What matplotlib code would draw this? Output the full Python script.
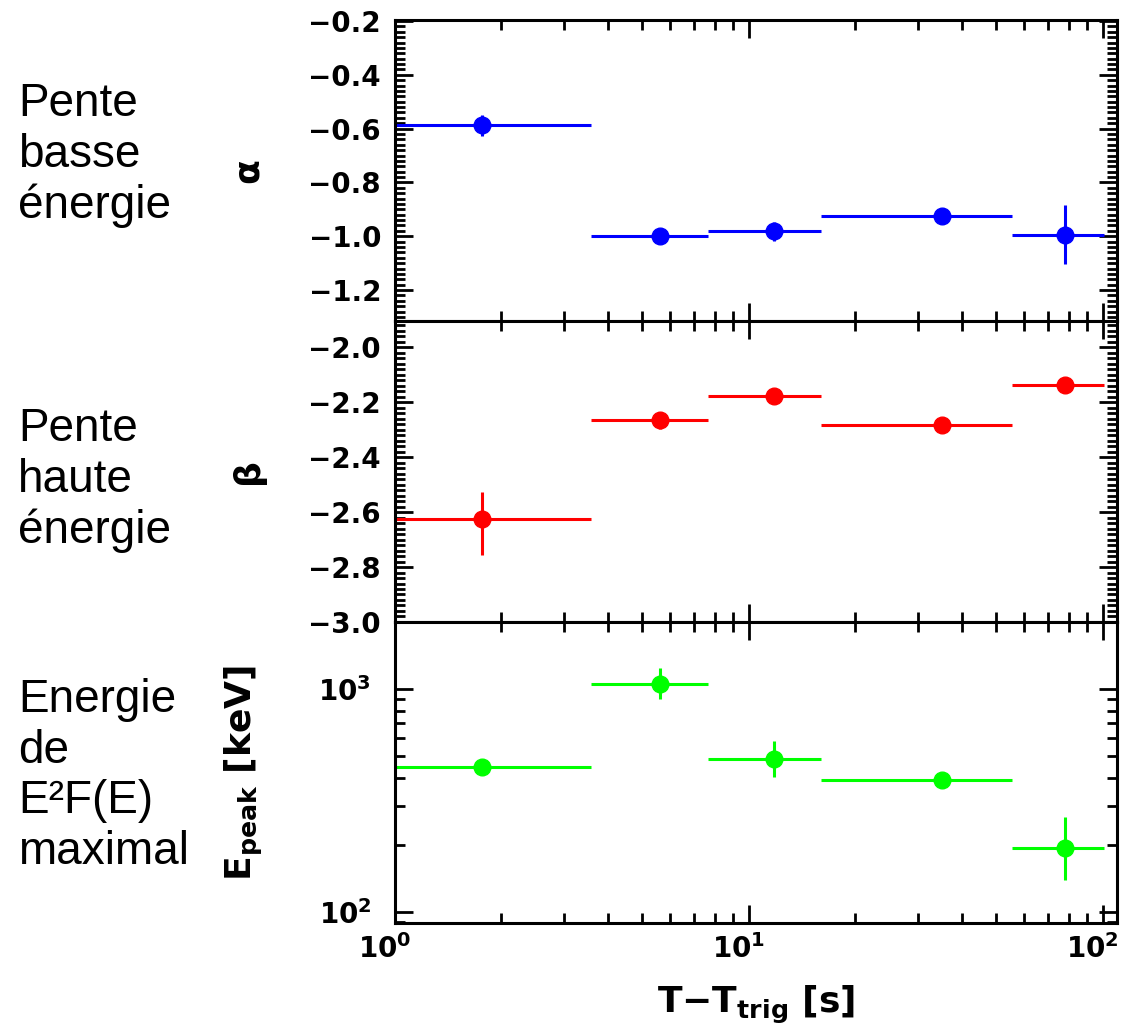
import numpy as np
import matplotlib
matplotlib.use('Agg')
import matplotlib.pyplot as plt
import matplotlib.transforms as mtrans
from matplotlib.ticker import MultipleLocator, LogLocator, NullFormatter

plt.rcParams['font.family'] = ['DejaVu Sans']
plt.rcParams['mathtext.fontset'] = 'custom'
plt.rcParams['mathtext.rm'] = 'DejaVu Sans:bold'
plt.rcParams['mathtext.it'] = 'DejaVu Sans:bold'
plt.rcParams['mathtext.bf'] = 'DejaVu Sans:bold'

# time bins (s)
t_mid = [1.76, 5.6, 11.8, 35.2, 78.0]
t_lo = [1.0, 3.57, 7.65, 16.0, 55.2]
t_hi = [3.57, 7.65, 16.0, 55.2, 101.0]

# low-energy slope
alpha = [-0.588, -1.0, -0.982, -0.925, -0.995]
alpha_err = [0.04, 0.012, 0.035, 0.012, 0.11]

# high-energy slope
beta = [-2.626, -2.266, -2.177, -2.284, -2.137]
beta_err_lo = [0.13, 0.03, 0.02, 0.015, 0.02]
beta_err_hi = [0.10, 0.03, 0.02, 0.015, 0.02]

# peak energy (keV)
epeak = [447, 1052, 485, 391, 194]
epeak_lo = [430, 902, 403, 378, 139]
epeak_hi = [465, 1242, 585, 405, 267]

side_texts = ['Pente\nbasse\nénergie', 'Pente\nhaute\nénergie',
              'Energie\nde\nE²F(E)\nmaximal']

fig = plt.figure(figsize=(11.22, 10.34), dpi=100)
gs = fig.add_gridspec(3, 1, left=0.352, right=0.9955, bottom=0.1074,
                      top=0.9807, hspace=0)
axes = [fig.add_subplot(gs[i]) for i in range(3)]

t_mid_a = np.array(t_mid)
xerr = [t_mid_a - np.array(t_lo), np.array(t_hi) - t_mid_a]


def errplot(ax, y, yerr, color):
    ax.errorbar(t_mid, y, xerr=xerr, yerr=yerr, fmt='o', color=color,
                ms=12, elinewidth=2.2, capsize=0, mec=color)


errplot(axes[0], alpha, alpha_err, '#0000ff')
errplot(axes[1], beta, [beta_err_lo, beta_err_hi], '#ff0000')
ep = np.array(epeak)
errplot(axes[2], epeak, [ep - np.array(epeak_lo), np.array(epeak_hi) - ep],
        '#00ff00')

for ax in axes:
    ax.set_xscale('log')
    ax.set_xlim(1, 109.6)
    ax.xaxis.set_major_locator(LogLocator(base=10, numticks=10))
    ax.xaxis.set_minor_locator(LogLocator(base=10, subs=np.arange(2, 10),
                                          numticks=20))
    ax.xaxis.set_minor_formatter(NullFormatter())
    ax.tick_params(which='both', direction='in', top=True, right=True,
                   width=2, labelsize=20)
    ax.tick_params(which='major', length=13, pad=10)
    ax.tick_params(which='minor', length=7)
    for s in ax.spines.values():
        s.set_linewidth(2.2)

axes[0].set_ylim(-1.315, -0.196)
axes[0].yaxis.set_major_locator(MultipleLocator(0.2))
axes[0].yaxis.set_minor_locator(MultipleLocator(0.02))
axes[1].set_ylim(-3.0, -1.904)
axes[1].yaxis.set_major_locator(MultipleLocator(0.2))
axes[1].yaxis.set_minor_locator(MultipleLocator(0.02))
axes[2].set_yscale('log')
axes[2].set_ylim(89.3, 1997)
axes[2].yaxis.set_minor_formatter(NullFormatter())
axes[2].tick_params(axis='y', which='major', pad=17)
axes[2].tick_params(axis='x', which='major', pad=8)

for ax in axes[:2]:
    ax.set_yticklabels([f'{v:.1f}'.replace('-', '\u2212')
                        for v in ax.get_yticks()])
    ax.tick_params(labelbottom=False)

for ax in axes:
    for lab in ax.get_yticklabels() + ax.get_xticklabels():
        lab.set_fontweight('bold')

# shift the x tick labels a bit to the left, as in the original
shift = mtrans.ScaledTranslation(-10 / 100, 0, fig.dpi_scale_trans)
for lab in axes[2].get_xticklabels():
    lab.set_transform(lab.get_transform() + shift)

axes[0].set_ylabel('α', fontsize=26, fontweight='bold')
axes[1].set_ylabel('β', fontsize=26, fontweight='bold')
axes[2].set_ylabel('E$_{peak}$ [keV]', fontsize=26, fontweight='bold')
for ax in axes:
    ax.yaxis.set_label_coords(-0.18, 0.5)
axes[2].set_xlabel('T\u2212T$_{trig}$ [s]', fontsize=26, fontweight='bold',
                   labelpad=14)

centers = [155, 480, 776]
for txt, yc in zip(side_texts, centers):
    fig.text(18 / 1122, 1 - yc / 1034, txt, fontsize=33, va='center',
             ha='left', linespacing=1.2, family='Liberation Sans')

fig.savefig('out.png', dpi=100)
